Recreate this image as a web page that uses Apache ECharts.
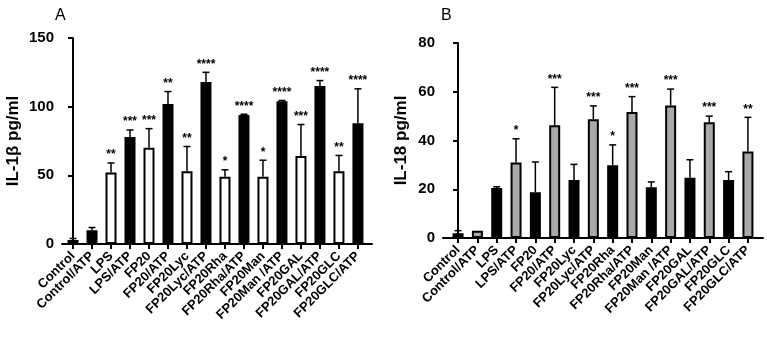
<!DOCTYPE html>
<html><head><meta charset="utf-8">
<script src="https://cdn.jsdelivr.net/npm/echarts@6/dist/echarts.min.js"></script>
<style>html,body{margin:0;padding:0;background:#fff}#c{width:767px;height:337px}</style>
</head><body><div id="c"></div>
<script>
const categories = ['Control','Control/ATP','LPS','LPS/ATP','FP20','FP20/ATP','FP20Lyc','FP20Lyc/ATP','FP20Rha','FP20Rha/ATP','FP20Man','FP20Man /ATP','FP20GAL','FP20GAL/ATP','FP20GLC','FP20GLC/ATP'];
const il1bValues = [3, 10, 52, 78, 70, 102, 53, 118, 49, 94, 49, 104, 64, 115, 53, 88];
const il1bErrors = [1, 2, 7, 5, 14, 9, 18, 7, 5, 0.5, 12, 0.5, 23, 4, 11.5, 25];
const il1bStars = ['', '', '**', '***', '***', '**', '**', '****', '*', '****', '*', '****', '***', '****', '**', '****'];
const il18Values = [2, 3, 20.5, 31, 18.8, 46.3, 23.8, 48.7, 29.8, 51.7, 20.8, 54.4, 24.7, 47.5, 23.8, 35.5];
const il18Errors = [1, 0, 0.5, 9.7, 12.4, 15.5, 6.4, 5.5, 8.4, 6.3, 2.2, 6.7, 7.4, 2.5, 3.4, 14];
const il18Stars = ['', '', '', '*', '', '***', '', '***', '*', '***', '', '***', '', '***', '', '**'];
const yTicksA = [0, 50, 100, 150];
const yTicksB = [0, 20, 40, 60, 80];

const FONT = '"Liberation Sans", Arial, sans-serif';
const idx = categories.map((_, i) => i);

function xAxisCfg(gi, min, max) {
  return {
    type: 'value', gridIndex: gi, min: min, max: max,
    axisLine: {show: true, onZero: false, lineStyle: {color: '#000', width: 2}},
    axisTick: {show: true, length: 5, customValues: idx, lineStyle: {color: '#000', width: 2}},
    axisLabel: {customValues: idx, rotate: 45, margin: 10, color: '#000', fontFamily: FONT, fontWeight: 'bold', fontSize: 13,
      showMinLabel: true, showMaxLabel: true, hideOverlap: false,
      formatter: v => categories[Math.round(v)]},
    splitLine: {show: false}
  };
}
function yAxisCfg(gi, max, interval, name, gap, ticks) {
  return {
    type: 'value', gridIndex: gi, min: 0, max: max, interval: interval,
    name: name, nameLocation: 'middle', nameGap: gap, nameRotate: 90,
    nameTextStyle: {color: '#000', fontFamily: FONT, fontWeight: 'bold', fontSize: 17},
    axisLine: {show: true, lineStyle: {color: '#000', width: 2}},
    axisTick: {show: true, length: 5, lineStyle: {color: '#000', width: 2}},
    axisLabel: {color: '#000', fontFamily: FONT, fontWeight: 'bold', fontSize: 15, margin: 8,
      formatter: v => ticks.includes(v) ? String(v) : ''},
    splitLine: {show: false}
  };
}
function barSeries(gi, values, colorFn, width) {
  return {
    type: 'bar', xAxisIndex: gi, yAxisIndex: gi, barWidth: width,
    data: values.map((v, i) => ({value: [i, v], itemStyle: {color: colorFn(i)}})),
    itemStyle: {borderColor: '#000', borderWidth: 2},
    z: 2
  };
}
function errSeries(gi, values, errors, stars) {
  return {
    type: 'custom', xAxisIndex: gi, yAxisIndex: gi, clip: false, z: 3,
    data: values.map((v, i) => [i, v, errors[i]]),
    renderItem: function (params, api) {
      const x = api.value(0), v = api.value(1), e = api.value(2);
      const s = stars[params.dataIndex];
      const p0 = api.coord([x, v]);
      const p1 = api.coord([x, v + e]);
      const children = [];
      if (e > 0.3) {
        children.push({type: 'line', shape: {x1: p0[0], y1: p0[1], x2: p1[0], y2: p1[1]}, style: {stroke: '#000', lineWidth: 1.5}});
        children.push({type: 'line', shape: {x1: p1[0] - 3.5, y1: p1[1], x2: p1[0] + 3.5, y2: p1[1]}, style: {stroke: '#000', lineWidth: 1.5}});
      }
      if (s) {
        children.push({type: 'text', x: p1[0], y: p1[1] - 2, style: {text: s, fill: '#000', font: 'bold 12px ' + FONT, align: 'center', verticalAlign: 'bottom'}});
      }
      return {type: 'group', children: children};
    }
  };
}

const chart = echarts.init(document.getElementById('c'), null, {renderer: 'canvas'});
chart.setOption({
  animation: false,
  backgroundColor: '#fff',
  title: [
    {text: 'A', left: 50, top: 3, textStyle: {fontFamily: FONT, fontWeight: 'normal', fontSize: 16, color: '#000'}},
    {text: 'B', left: 436, top: 3, textStyle: {fontFamily: FONT, fontWeight: 'normal', fontSize: 16, color: '#000'}}
  ],
  grid: [
    {left: 62, right: 395, top: 38, bottom: 93},
    {left: 443, right: 4, top: 43, bottom: 99}
  ],
  xAxis: [xAxisCfg(0, -0.58, 15.74), xAxisCfg(1, -0.78, 15.78)],
  yAxis: [yAxisCfg(0, 150, 50, 'IL-1β pg/ml', 40, yTicksA), yAxisCfg(1, 80, 20, 'IL-18 pg/ml', 33, yTicksB)],
  series: [
    barSeries(0, il1bValues, i => (i % 2 === 0 ? '#fff' : '#000'), 11),
    errSeries(0, il1bValues, il1bErrors, il1bStars),
    barSeries(1, il18Values, i => (i % 2 === 0 ? '#000' : '#a9a9a9'), 11),
    errSeries(1, il18Values, il18Errors, il18Stars)
  ]
});
</script></body></html>
